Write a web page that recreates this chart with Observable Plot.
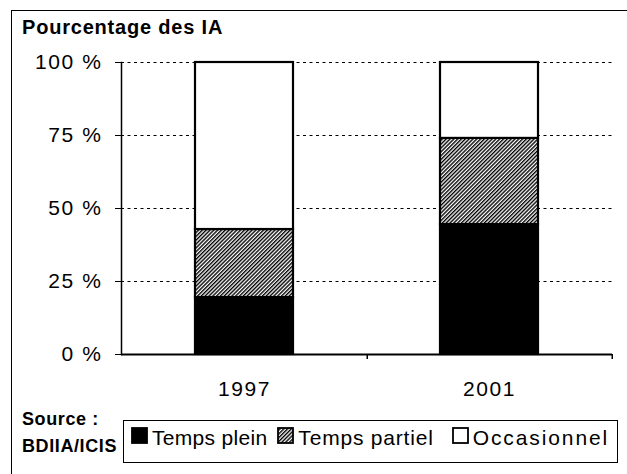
<!DOCTYPE html>
<html>
<head>
<meta charset="utf-8">
<script src="https://cdn.jsdelivr.net/npm/d3@7"></script>
<script src="https://cdn.jsdelivr.net/npm/@observablehq/plot@0.6"></script>
<style>
  html, body { margin: 0; padding: 0; background: #fff; }
  body { width: 627px; height: 474px; overflow: hidden; font-family: "Liberation Sans", Arial, sans-serif; color: #000; }
  #wrap { position: relative; width: 627px; height: 474px; overflow: hidden; }
  #frame { position: absolute; left: 11px; top: 10px; width: 640px; height: 500px; border: 1.5px solid #000; box-sizing: border-box; }
  #title { position: absolute; left: 22px; top: 15px; font-size: 20px; font-weight: bold; letter-spacing: 0.8px; line-height: 24px; }
  #chart { position: absolute; left: 0; top: 0; }
  #chart svg text { letter-spacing: 1.6px; }
  #source { position: absolute; left: 22px; top: 406px; font-size: 18px; font-weight: bold; line-height: 27px; letter-spacing: 0.6px; }
  #legend { position: absolute; left: 123px; top: 420px; width: 495px; height: 43px; border: 1.5px solid #000; box-sizing: border-box;
            display: flex; align-items: flex-start; padding-left: 7px; padding-top: 5.5px; font-size: 21px; line-height: 21px; }
  .item { display: flex; align-items: flex-start; margin-right: 10px; white-space: nowrap; }
  .item:nth-child(2) { margin-right: 18px; }
  .sw { width: 17px; height: 17px; margin-right: 4px; display: block; }
</style>
</head>
<body>
<div id="wrap">
  <svg width="0" height="0" style="position:absolute">
    <defs>
      <pattern id="hatch" patternUnits="userSpaceOnUse" width="2.7" height="2.7" patternTransform="rotate(45)">
        <rect width="2.7" height="2.7" fill="#fff"></rect>
        <line x1="0.7" y1="0" x2="0.7" y2="2.7" stroke="#000" stroke-width="1.4"></line>
      </pattern>
    </defs>
  </svg>
  <div id="frame"></div>
  <div id="chart"></div>
  <div id="title">Pourcentage des IA</div>
  <div id="source">Source :<br>BDIIA/ICIS</div>
  <div id="legend"></div>
</div>
<script>
const years = ["1997", "2001"];
const series = ["Temps plein", "Temps partiel", "Occasionnel"];
const tempsPlein = [19.5, 44.5];
const tempsPartiel = [23.3, 29.5];
const occasionnel = [57.2, 26.0];
const yTicks = [0, 25, 50, 75, 100];
const seriesFills = ["#000", "url(#hatch)", "#fff"];
const legendSpacing = ["0.3px", "0.8px", "1.9px"];

const values = [tempsPlein, tempsPartiel, occasionnel];
const rows = [];
series.forEach((s, i) => years.forEach((y, j) => rows.push({year: y, series: s, value: values[i][j]})));

const W = 627, H = 420;
const mL = 121, mR = 15, mT = 62, mB = H - 354;
const step = (W - mL - mR) / years.length;

const chart = Plot.plot({
  width: W, height: H,
  marginLeft: mL, marginRight: mR, marginTop: mT, marginBottom: mB,
  style: {fontFamily: "'Liberation Sans', Arial, sans-serif", fontSize: "21px", color: "#000", background: "transparent", overflow: "visible"},
  x: {domain: years, paddingInner: 0.6, paddingOuter: 0.3, axis: null},
  y: {domain: [0, 100], axis: null},
  color: {domain: series, range: seriesFills},
  marks: [
    Plot.ruleY(yTicks.filter(d => d > 0), {stroke: "#000", strokeWidth: 1.2, strokeDasharray: "3,3.5"}),
    Plot.barY(rows, Plot.stackY({x: "year", y: "value", fill: "series", stroke: "#000", strokeWidth: 2.2, order: series})),
    Plot.frame({anchor: "left", stroke: "#000", strokeWidth: 1.5}),
    Plot.ruleY([0], {stroke: "#000", strokeWidth: 1.8}),
    Plot.ruleX(years, {x: d => d, dx: step / 2, y1: 0, y2: 0, insetBottom: -5, stroke: "#000", strokeWidth: 1.5}),
    Plot.axisY({ticks: yTicks, label: null, tickSize: 6, tickPadding: 13, tickFormat: d => d + " %", fontSize: 21}),
    Plot.axisX({label: null, tickSize: 0, tickPadding: 27, fontSize: 21})
  ]
});
document.getElementById("chart").appendChild(chart);

const legend = document.getElementById("legend");
series.forEach((s, i) => {
  const it = document.createElement("div");
  it.className = "item";
  const sw = document.createElementNS("http://www.w3.org/2000/svg", "svg");
  sw.setAttribute("width", 17); sw.setAttribute("height", 17);
  sw.setAttribute("class", "sw");
  const r = document.createElementNS("http://www.w3.org/2000/svg", "rect");
  r.setAttribute("x", 1); r.setAttribute("y", 1); r.setAttribute("width", 15); r.setAttribute("height", 15);
  r.setAttribute("fill", seriesFills[i]); r.setAttribute("stroke", "#000"); r.setAttribute("stroke-width", 1.8);
  sw.appendChild(r);
  it.appendChild(sw);
  const t = document.createElement("span");
  t.textContent = s;
  t.style.letterSpacing = legendSpacing[i];
  it.appendChild(t);
  legend.appendChild(it);
});
</script>
</body>
</html>
